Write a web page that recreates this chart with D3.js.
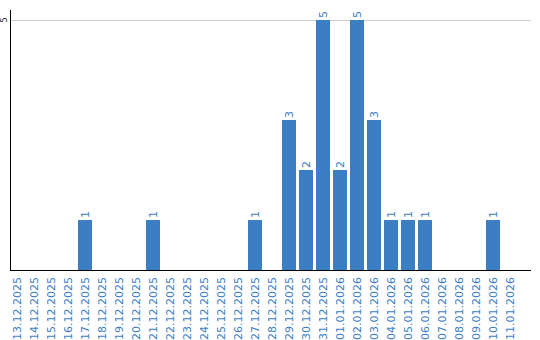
<!DOCTYPE html>
<html><head><meta charset="utf-8">
<script src="https://cdn.jsdelivr.net/npm/d3@7"></script>
<style>body{margin:0;background:#fff}svg{display:block}</style>
</head><body>
<script>
const categories = ["13.12.2025","14.12.2025","15.12.2025","16.12.2025","17.12.2025","18.12.2025","19.12.2025","20.12.2025","21.12.2025","22.12.2025","23.12.2025","24.12.2025","25.12.2025","26.12.2025","27.12.2025","28.12.2025","29.12.2025","30.12.2025","31.12.2025","01.01.2026","02.01.2026","03.01.2026","04.01.2026","05.01.2026","06.01.2026","07.01.2026","08.01.2026","09.01.2026","10.01.2026","11.01.2026"];
const values = [0,0,0,0,1,0,0,0,1,0,0,0,0,0,1,0,3,2,5,2,5,3,1,1,1,0,0,0,1,0];
const yTicks = [5];

const W = 540, H = 340;
const svg = d3.select("body").append("svg").attr("width", W).attr("height", H);
const font = "DejaVu Sans, Verdana, sans-serif";
const blue = "#3b7ec4";

const x = d3.scaleBand().domain(categories).range([10, 517]).paddingInner(3/17).paddingOuter(0);
const y = d3.scaleLinear().domain([0, 5]).range([270, 20]);

// gridlines
svg.selectAll("line.grid").data(yTicks).enter().append("line")
  .attr("x1", 11).attr("x2", 531)
  .attr("y1", d => y(d)).attr("y2", d => y(d))
  .attr("stroke", "#cccccc").attr("stroke-width", 1).attr("shape-rendering", "crispEdges");

// bars
svg.selectAll("rect.bar").data(values.map((v, i) => ({c: categories[i], v}))).enter()
  .filter(d => d.v > 0)
  .append("rect")
  .attr("x", d => x(d.c)).attr("width", x.bandwidth())
  .attr("y", d => y(d.v)).attr("height", d => y(0) - y(d.v))
  .attr("fill", blue);

// value labels
svg.selectAll("text.val").data(values.map((v, i) => ({c: categories[i], v}))).enter()
  .filter(d => d.v > 0)
  .append("text")
  .attr("transform", d => `translate(${x(d.c) + x.bandwidth()/2 + 4},${y(d.v) - 2}) rotate(-90)`)
  .attr("text-anchor", "start")
  .attr("font-family", font).attr("font-size", 11).attr("fill", blue)
  .text(d => d.v);

// axes lines
svg.append("line").attr("x1", 10.5).attr("x2", 10.5).attr("y1", 10).attr("y2", 270.5)
  .attr("stroke", "#000").attr("stroke-width", 1);
svg.append("line").attr("x1", 10).attr("x2", 531).attr("y1", 270.5).attr("y2", 270.5)
  .attr("stroke", "#000").attr("stroke-width", 1);

// y tick labels
svg.selectAll("text.yt").data(yTicks).enter().append("text")
  .attr("transform", d => `translate(7,${y(d)}) rotate(-90)`)
  .attr("text-anchor", "middle")
  .attr("font-family", font).attr("font-size", 8).attr("fill", "#222")
  .text(d => d);

// x labels
svg.selectAll("text.xl").data(categories).enter().append("text")
  .attr("transform", d => `translate(${x(d) + x.bandwidth()/2 + 4},277) rotate(-90)`)
  .attr("text-anchor", "end")
  .attr("font-family", font).attr("font-size", 11).attr("fill", blue)
  .text(d => d);
</script>
</body></html>
